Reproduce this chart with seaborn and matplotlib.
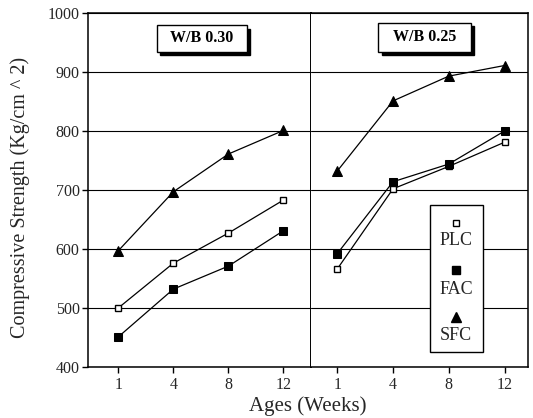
import matplotlib
matplotlib.use("Agg")
import matplotlib.pyplot as plt
import seaborn as sns
import pandas as pd
from matplotlib.patches import Rectangle

ages = ["1", "4", "8", "12"]
panels = ["W/B 0.30", "W/B 0.25"]
series = ["PLC", "FAC", "SFC"]

plc_030 = [500, 576, 627, 683]
fac_030 = [451, 532, 571, 631]
sfc_030 = [597, 697, 761, 801]

plc_025 = [566, 702, 740, 781]
fac_025 = [592, 714, 744, 800]
sfc_025 = [732, 851, 893, 911]

values = {
    "W/B 0.30": {"PLC": plc_030, "FAC": fac_030, "SFC": sfc_030},
    "W/B 0.25": {"PLC": plc_025, "FAC": fac_025, "SFC": sfc_025},
}

styles = {
    "PLC": dict(marker="s", markersize=5, markerfacecolor="white", markeredgecolor="black", markeredgewidth=1.0),
    "FAC": dict(marker="s", markersize=5.5, markerfacecolor="black", markeredgecolor="black"),
    "SFC": dict(marker="^", markersize=7, markerfacecolor="black", markeredgecolor="black"),
}

sns.set_theme(style="white")
plt.rcParams["font.family"] = ["Liberation Serif", "DejaVu Serif"]

fig = plt.figure(figsize=(5.33, 4.18), dpi=100)
W, H = 533, 418
def fx(px): return px / W
def fy(py): return 1 - py / H

ax1 = fig.add_axes([fx(88), fy(367), fx(311) - fx(88), fy(13) - fy(367)])
ax2 = fig.add_axes([fx(311), fy(367), fx(528) - fx(311), fy(13) - fy(367)], sharey=ax1)

# label box geometry in axes fraction (x0, x1, y0, y1)
boxes = {"W/B 0.30": (0.309, 0.713, 0.890, 0.966),
         "W/B 0.25": (0.309, 0.737, 0.890, 0.972)}

for ax, panel in zip([ax1, ax2], panels):
    for s in series:
        df = pd.DataFrame({"Age": ages, "Strength": values[panel][s]})
        sns.lineplot(data=df, x="Age", y="Strength", ax=ax, color="black",
                     linewidth=0.9, sort=False, **styles[s])
    ax.set_ylim(400, 1000)
    ax.set_yticks(range(400, 1001, 100))
    ax.yaxis.grid(True, color="black", linewidth=0.8)
    ax.xaxis.grid(False)
    ax.set_axisbelow(True)
    for sp in ax.spines.values():
        sp.set_color("black")
        sp.set_linewidth(1.1)
    ax.tick_params(axis="x", direction="out", length=4, width=1, color="black",
                   labelsize=11.5, pad=3, bottom=True)
    ax.set_xlabel("")
    ax.set_ylabel("")
    # panel label with shadow
    x0, x1, y0, y1 = boxes[panel]
    bw = ax.get_position().width * W
    bh = ax.get_position().height * H
    dx, dy = 3.5 / bw, 3.5 / bh
    ax.add_patch(Rectangle((x0 + dx, y0 - dy), x1 - x0, y1 - y0, transform=ax.transAxes,
                           facecolor="black", edgecolor="black", zorder=4))
    ax.add_patch(Rectangle((x0, y0), x1 - x0, y1 - y0, transform=ax.transAxes,
                           facecolor="white", edgecolor="black", linewidth=1, zorder=5))
    ax.text((x0 + x1) / 2, (y0 + y1) / 2, panel, transform=ax.transAxes, ha="center", va="center",
            fontsize=11.5, fontweight="bold", color="black", zorder=6)

ax1.set_xlim(-0.55, 3.5)
ax2.set_xlim(-0.47, 3.42)
ax1.tick_params(axis="y", direction="out", length=4, width=1, color="black", labelsize=11.5, left=True, pad=2)
ax2.tick_params(axis="y", left=False, labelleft=False)
ax1.spines["right"].set_linewidth(1.4)
ax2.spines["left"].set_visible(False)

fig.text(fx(20), fy(197), "Compressive Strength (Kg/cm ^ 2)", rotation=90,
         ha="center", va="center", fontsize=14.5)
fig.text(fx(308), fy(406), "Ages (Weeks)", ha="center", va="center", fontsize=15)

# custom vertical legend
ax2.add_patch(Rectangle((0.548, 0.042), 0.245, 0.416, transform=ax2.transAxes,
                        facecolor="white", edgecolor="black", linewidth=1, zorder=5))
leg_pos = {"PLC": (0.407, 0.356), "FAC": (0.274, 0.220), "SFC": (0.141, 0.088)}
for s in series:
    my, ty = leg_pos[s]
    ax2.plot([0.668], [my], transform=ax2.transAxes, linestyle="none", zorder=6, clip_on=False,
             **styles[s])
    ax2.text(0.668, ty, s, transform=ax2.transAxes, ha="center", va="center",
             fontsize=13, zorder=6)

fig.savefig("out.png", dpi=100)
